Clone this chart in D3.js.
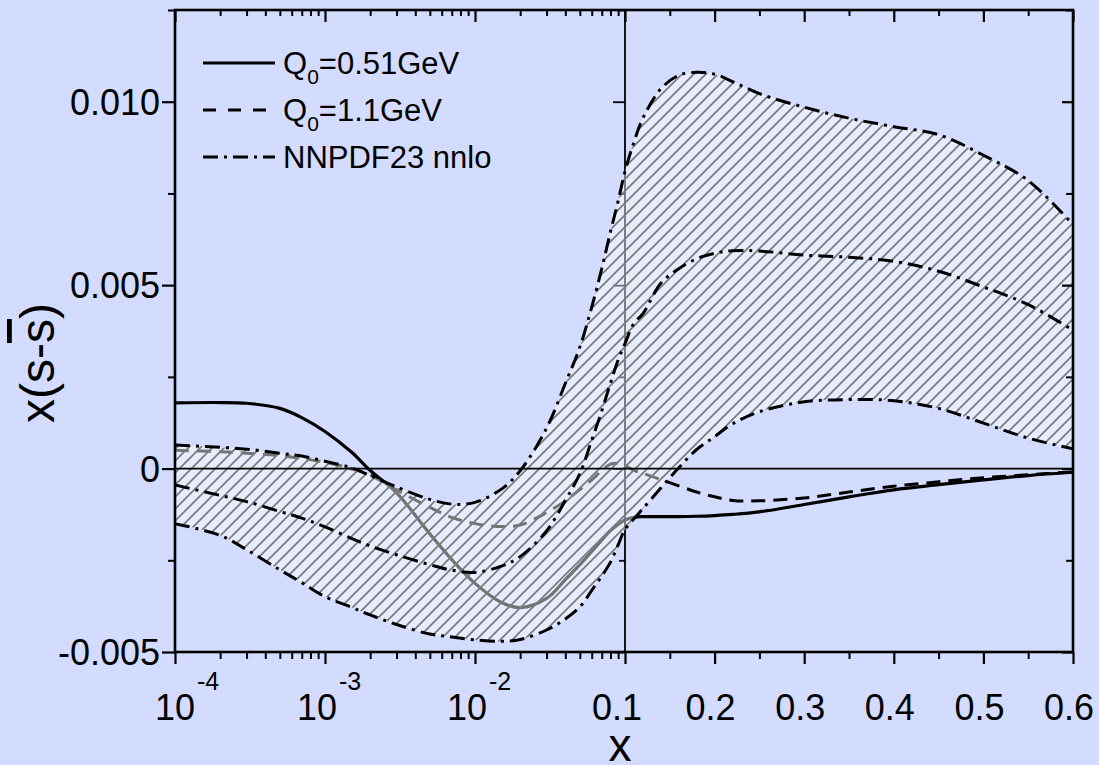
<!DOCTYPE html>
<html>
<head>
<meta charset="utf-8">
<script src="https://cdn.jsdelivr.net/npm/d3@7"></script>
<style>
  body { margin: 0; background: #d3dcfe; }
  text { font-family: "Liberation Sans", Arial, sans-serif; fill: #000; }
</style>
</head>
<body>
<script>
// x grid shared by every curve: log part up to 0.1, linear part after
var xGrid = [1e-4, 2e-4, 3e-4, 5e-4, 7e-4, 1e-3, 1.5e-3, 2e-3, 3e-3, 5e-3, 7e-3,
             1e-2, 1.5e-2, 2e-2, 3e-2, 4e-2, 5e-2, 6e-2, 7e-2, 8e-2, 9e-2, 0.1,
             0.11, 0.12, 0.14, 0.16, 0.18, 0.2, 0.22, 0.25, 0.3, 0.35, 0.4, 0.45, 0.5, 0.55, 0.6];

// x(s - sbar), in units of 1e-3
var solidQ051 = [1.79, 1.80, 1.78, 1.64, 1.39, 1.01, 0.45, -0.05, -0.66, -1.78, -2.48,
                 -3.13, -3.65, -3.79, -3.54, -3.03, -2.62, -2.26, -1.95, -1.69, -1.52, -1.40,
                 -1.33, -1.31, -1.31, -1.31, -1.30, -1.28, -1.25, -1.18, -0.98, -0.77, -0.58, -0.44, -0.31, -0.19, -0.10];
var dashedQ11 = [0.50, 0.46, 0.42, 0.35, 0.27, 0.17, -0.01, -0.18, -0.58, -1.06, -1.33,
                 -1.50, -1.58, -1.54, -1.20, -0.88, -0.57, -0.31, -0.05, 0.12, 0.14, 0.08,
                 -0.05, -0.13, -0.30, -0.47, -0.64, -0.77, -0.87, -0.88, -0.80, -0.64, -0.48, -0.36, -0.25, -0.17, -0.09];
var nnpdfCentral = [-0.45, -0.73, -0.90, -1.17, -1.35, -1.59, -1.90, -2.11, -2.35, -2.62, -2.77,
                    -2.83, -2.66, -2.40, -1.70, -0.87, -0.14, 0.77, 1.57, 2.33, 2.96, 3.41,
                    3.96, 4.22, 5.05, 5.45, 5.72, 5.87, 5.94, 5.93, 5.82, 5.76, 5.65, 5.38, 4.95, 4.47, 3.77];
var nnpdfUpper = [0.64, 0.58, 0.53, 0.42, 0.34, 0.20, 0.02, -0.19, -0.50, -0.84, -0.97,
                  -0.92, -0.56, -0.06, 1.10, 2.32, 3.31, 4.40, 5.45, 6.45, 7.29, 8.10,
                  8.90, 9.55, 10.35, 10.72, 10.80, 10.75, 10.55, 10.22, 9.85, 9.55, 9.32, 9.10, 8.54, 7.85, 6.65];
var nnpdfLower = [-1.50, -1.82, -2.21, -2.76, -3.11, -3.49, -3.78, -3.99, -4.25, -4.51, -4.59,
                  -4.67, -4.71, -4.66, -4.40, -4.10, -3.77, -3.32, -2.93, -2.55, -2.08, -1.66,
                  -1.37, -1.09, -0.53, 0.02, 0.52, 0.87, 1.22, 1.55, 1.82, 1.88, 1.85, 1.64, 1.24, 0.83, 0.54];

var yMajor = [-0.005, 0, 0.005, 0.010];
var yMinor = [-0.0025, 0.0025, 0.0075, 0.0125];
var logMajor = [1e-4, 1e-3, 1e-2, 0.1];
var logExp = ["-4", "-3", "-2"];
var linMajor = [0.2, 0.3, 0.4, 0.5, 0.6];
var linMinor = [0.15, 0.25, 0.35, 0.45, 0.55];
var legendLabels = [["Q", "0", "=0.51GeV"], ["Q", "0", "=1.1GeV"], ["NNPDF23 nnlo", "", ""]];

var W = 1099, H = 765;
var plotL = 175, plotR = 1073, plotT = 10, plotB = 652, split = 625;

var xLog = d3.scaleLog().domain([1e-4, 0.1]).range([plotL, split]);
var xLin = d3.scaleLinear().domain([0.1, 0.6]).range([split, plotR]);
function xPos(v) { return v <= 0.1 ? xLog(v) : xLin(v); }
var y = d3.scaleLinear().domain([-0.005, 0.0125]).range([plotB, plotT]);

var logMinor = xLog.ticks().filter(function(d) { return logMajor.indexOf(d) < 0; });

function pts(vals) { return vals.map(function(v, i) { return [xGrid[i], v * 1e-3]; }); }

var curve = d3.curveCatmullRom.alpha(0.5);
var line = d3.line().x(function(d) { return xPos(d[0]); }).y(function(d) { return y(d[1]); }).curve(curve);
var band = d3.area()
    .x(function(d, i) { return xPos(xGrid[i]); })
    .y0(function(d) { return y(d[0] * 1e-3); })
    .y1(function(d) { return y(d[1] * 1e-3); })
    .curve(curve);

var svg = d3.select("body").append("svg").attr("width", W).attr("height", H);
svg.append("rect").attr("width", W).attr("height", H).attr("fill", "#d3dcfe");

var defs = svg.append("defs");
defs.append("clipPath").attr("id", "plotClip")
    .append("rect").attr("x", plotL).attr("y", plotT).attr("width", plotR - plotL).attr("height", plotB - plotT);
var hs = 12; // hatch spacing
var hatch = defs.append("pattern").attr("id", "hatch")
    .attr("patternUnits", "userSpaceOnUse").attr("width", hs).attr("height", hs);
hatch.append("path")
    .attr("d", "M0," + hs + " L" + hs + ",0 M-2,2 L2,-2 M" + (hs - 2) + "," + (hs + 2) + " L" + (hs + 2) + "," + (hs - 2))
    .attr("stroke", "#7a7a7a").attr("stroke-width", 1.7);

function styleAxis(g, w) {
    g.select(".domain").remove();
    g.selectAll("line").attr("stroke-width", w);
    g.selectAll("text").remove();
}

// divider at x = 0.1 with its own ticks (gets covered by the band)
svg.append("line").attr("x1", split).attr("x2", split).attr("y1", plotT).attr("y2", plotB)
    .attr("stroke", "#000").attr("stroke-width", 1.8);
svg.append("g").attr("transform", "translate(" + split + ",0)")
    .call(d3.axisLeft(y).tickValues(yMajor).tickSize(12)).call(styleAxis, 1.8);
svg.append("g").attr("transform", "translate(" + split + ",0)")
    .call(d3.axisLeft(y).tickValues(yMinor).tickSize(6)).call(styleAxis, 1.8);

var plot = svg.append("g").attr("clip-path", "url(#plotClip)");

// model curves (under the band)
plot.append("path").datum(pts(solidQ051)).attr("d", line)
    .attr("fill", "none").attr("stroke", "#000").attr("stroke-width", 3.2);
plot.append("path").datum(pts(dashedQ11)).attr("d", line)
    .attr("fill", "none").attr("stroke", "#000").attr("stroke-width", 3)
    .attr("stroke-dasharray", "14,8");

// NNPDF band
var bandData = nnpdfLower.map(function(v, i) { return [v, nnpdfUpper[i]]; });
plot.append("path").datum(bandData).attr("d", band)
    .attr("fill", "#fff").attr("fill-opacity", 0.45);
plot.append("path").datum(bandData).attr("d", band)
    .attr("fill", "url(#hatch)");

var dashDot = "15,6,3,6";
[nnpdfUpper, nnpdfCentral, nnpdfLower].forEach(function(s) {
    plot.append("path").datum(pts(s)).attr("d", line)
        .attr("fill", "none").attr("stroke", "#000").attr("stroke-width", 3)
        .attr("stroke-dasharray", dashDot);
});

// zero line
svg.append("line").attr("x1", plotL).attr("x2", plotR).attr("y1", y(0)).attr("y2", y(0))
    .attr("stroke", "#000").attr("stroke-width", 1.8);

// axes: bottom (outward), top (inward), left (outward), right (inward)
svg.append("g").attr("transform", "translate(0," + plotB + ")")
    .call(d3.axisBottom(xLog).tickValues(logMajor).tickSize(12)).call(styleAxis, 2.2);
svg.append("g").attr("transform", "translate(0," + plotB + ")")
    .call(d3.axisBottom(xLog).tickValues(logMinor).tickSize(7)).call(styleAxis, 2);
svg.append("g").attr("transform", "translate(0," + plotB + ")")
    .call(d3.axisBottom(xLin).tickValues(linMajor).tickSize(12)).call(styleAxis, 2.2);
svg.append("g").attr("transform", "translate(0," + plotB + ")")
    .call(d3.axisBottom(xLin).tickValues(linMinor).tickSize(7)).call(styleAxis, 2);

svg.append("g").attr("transform", "translate(0," + plotT + ")")
    .call(d3.axisBottom(xLog).tickValues(logMajor).tickSize(12)).call(styleAxis, 2.2);
svg.append("g").attr("transform", "translate(0," + plotT + ")")
    .call(d3.axisBottom(xLog).tickValues(logMinor).tickSize(6)).call(styleAxis, 2);
svg.append("g").attr("transform", "translate(0," + plotT + ")")
    .call(d3.axisBottom(xLin).tickValues(linMajor).tickSize(12)).call(styleAxis, 2.2);
svg.append("g").attr("transform", "translate(0," + plotT + ")")
    .call(d3.axisBottom(xLin).tickValues(linMinor).tickSize(6)).call(styleAxis, 2);

svg.append("g").attr("transform", "translate(" + plotL + ",0)")
    .call(d3.axisLeft(y).tickValues(yMajor).tickSize(13)).call(styleAxis, 2.2);
svg.append("g").attr("transform", "translate(" + plotL + ",0)")
    .call(d3.axisLeft(y).tickValues(yMinor).tickSize(7)).call(styleAxis, 2);
svg.append("g").attr("transform", "translate(" + plotR + ",0)")
    .call(d3.axisLeft(y).tickValues(yMajor).tickSize(11)).call(styleAxis, 2.2);
svg.append("g").attr("transform", "translate(" + plotR + ",0)")
    .call(d3.axisLeft(y).tickValues(yMinor).tickSize(7)).call(styleAxis, 2);

svg.append("rect").attr("x", plotL).attr("y", plotT).attr("width", plotR - plotL).attr("height", plotB - plotT)
    .attr("fill", "none").attr("stroke", "#000").attr("stroke-width", 2.6);

// tick labels
svg.selectAll(".ylab").data(yMajor).enter().append("text")
    .attr("class", "ylab")
    .attr("x", 160).attr("y", function(d) { return y(d) + 13; })
    .attr("text-anchor", "end").attr("font-size", 36)
    .text(function(d) { return d === 0 ? "0" : d.toFixed(3); });

var pow = svg.selectAll(".powlab").data(logMajor.slice(0, 3)).enter().append("text")
    .attr("class", "powlab")
    .attr("x", function(d, i) { return xLog(d) + (i === 0 ? -20 : -28); })
    .attr("y", 720).attr("font-size", 36);
pow.append("tspan").text("10");
pow.append("tspan").attr("dy", -30).attr("dx", 2).attr("font-size", 25)
    .text(function(d, i) { return logExp[i]; });

svg.selectAll(".linlab").data([0.1].concat(linMajor)).enter().append("text")
    .attr("class", "linlab")
    .attr("x", function(d, i) { return xLin(d) + (i === 0 ? -8 : -4); })
    .attr("y", 720).attr("text-anchor", "middle").attr("font-size", 36)
    .text(function(d) { return d3.format(".1f")(d); });

// axis titles
svg.append("text").attr("x", 620).attr("y", 761).attr("text-anchor", "middle")
    .attr("font-size", 46).text("x");
var yTitle = svg.append("text").attr("transform", "translate(54,363) rotate(-90)")
    .attr("text-anchor", "middle").attr("font-size", 48);
yTitle.append("tspan").text("x(s-");
yTitle.append("tspan").style("text-decoration", "overline").text("s");
yTitle.append("tspan").text(")");

// legend
var legendDash = [null, "13,12", dashDot];
var legend = svg.selectAll(".leg").data(legendLabels).enter().append("g")
    .attr("class", "leg")
    .attr("transform", function(d, i) { return "translate(203," + (63 + i * 47) + ")"; });
legend.append("line").attr("x1", 0).attr("x2", 72)
    .attr("stroke", "#000").attr("stroke-width", 3)
    .attr("stroke-dasharray", function(d, i) { return legendDash[i]; });
var lt = legend.append("text").attr("x", 80).attr("y", 11).attr("font-size", 31);
lt.append("tspan").text(function(d) { return d[0]; });
lt.append("tspan").attr("font-size", 21).attr("dy", 10).text(function(d) { return d[1]; });
lt.append("tspan").attr("dy", function(d) { return d[1] ? -10 : 0; }).text(function(d) { return d[2]; });
</script>
</body>
</html>
